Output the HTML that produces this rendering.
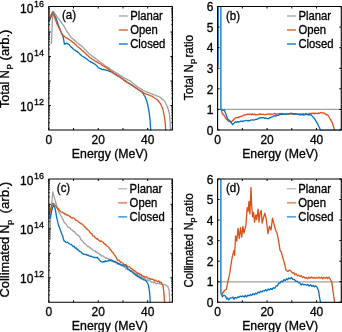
<!DOCTYPE html><html><head><meta charset="utf-8"><style>html,body{margin:0;padding:0;background:#fff;width:342px;height:332px;overflow:hidden} text{fill:#000;stroke:#000;stroke-width:0.3px}</style></head><body><svg width="342" height="332" viewBox="0 0 342 332" style="position:absolute;left:0;top:0;will-change:transform" stroke-linejoin="round" font-family='"Liberation Sans", sans-serif'>
<rect width="342" height="332" fill="#fff"/>
<defs>
<clipPath id="cla"><rect x="48.8" y="6.5" width="123.60000000000001" height="124.1"/></clipPath>
<clipPath id="clb"><rect x="217.6" y="6.5" width="123.70000000000002" height="124.1"/></clipPath>
<clipPath id="clc"><rect x="48.8" y="179" width="123.60000000000001" height="123.9"/></clipPath>
<clipPath id="cld"><rect x="217.6" y="179" width="123.70000000000002" height="123.9"/></clipPath>
</defs>
<polyline clip-path="url(#cla)" points="51.40,44.00 51.80,35.00 52.30,22.00 53.20,11.40 54.13,12.67 55.07,13.93 56.00,15.13 57.40,16.86 58.12,18.06 58.84,18.83 59.56,20.01 60.28,20.95 61.00,21.82 61.76,23.14 62.52,24.09 63.28,25.39 64.04,26.39 64.80,27.54 65.75,29.42 66.70,31.33 67.45,32.08 68.20,33.16 68.95,34.35 69.70,35.51 70.45,36.40 71.20,37.36 71.99,38.29 72.78,38.62 73.56,39.64 74.35,40.12 75.14,40.76 75.92,41.45 76.71,42.22 77.50,43.13 78.27,43.47 79.03,44.23 79.80,44.86 80.57,45.35 81.33,46.02 82.10,46.43 82.80,47.12 83.50,47.88 84.20,48.77 84.90,49.37 85.60,50.03 86.30,50.83 87.00,51.48 87.70,52.12 88.40,53.02 89.20,53.73 90.00,54.30 90.71,54.95 91.41,55.46 92.12,56.12 92.82,56.59 93.53,56.93 94.24,57.73 94.94,57.91 95.65,58.56 96.35,59.21 97.06,59.50 97.76,60.15 98.47,60.50 99.18,61.27 99.88,61.84 100.59,62.28 101.29,62.93 102.00,63.23 102.71,63.87 103.42,64.33 104.14,64.81 104.85,65.26 105.56,65.91 106.27,66.44 106.98,66.75 107.69,67.32 108.41,67.57 109.12,68.32 109.83,68.79 110.54,69.43 111.25,69.85 111.96,70.13 112.68,70.67 113.39,71.27 114.10,71.51 114.81,72.11 115.51,72.41 116.22,72.82 116.92,73.22 117.63,73.92 118.34,74.09 119.04,74.56 119.75,75.04 120.45,75.66 121.16,75.77 121.86,76.34 122.57,76.80 123.28,77.36 123.98,77.76 124.69,78.20 125.39,78.39 126.10,78.87 126.88,79.22 127.66,79.81 128.44,80.22 129.22,80.28 130.00,80.67 130.75,81.29 131.50,81.89 132.25,82.59 133.00,83.24 133.75,83.71 134.50,84.20 135.25,84.97 136.00,85.55 136.75,86.23 137.50,86.98 138.26,87.33 139.02,87.71 139.78,88.20 140.54,88.67 141.30,88.87 142.06,89.66 142.82,90.06 143.58,90.55 144.34,90.97 145.10,91.26 145.85,91.56 146.60,91.74 147.35,92.25 148.10,92.32 148.85,92.63 149.60,92.98 150.35,93.26 151.10,93.64 151.85,93.82 152.60,94.10 153.35,94.46 154.10,94.74 154.85,95.15 155.60,95.31 156.35,95.95 157.10,96.15 157.85,96.26 158.60,96.60 159.35,96.94 160.10,97.25 160.85,97.78 161.60,98.71 162.35,99.40 163.10,99.82 163.85,100.46 164.60,100.93 165.35,102.44 166.10,104.04 166.85,105.51 167.60,107.23 168.55,110.71 169.50,114.41 170.20,122.38 170.40,131.00" fill="none" stroke="#a0a0a0" stroke-width="1.3" stroke-linejoin="round"/>
<polyline clip-path="url(#cla)" points="48.80,22.30 49.53,20.53 50.27,18.77 51.00,17.00 51.90,14.65 52.80,12.30 53.57,13.65 54.35,15.00 55.12,16.35 55.90,17.70 56.73,20.35 57.57,22.79 58.40,25.62 59.12,27.06 59.84,29.01 60.56,30.94 61.28,32.58 62.00,34.20 63.20,36.98 64.40,44.23 65.20,43.73 66.00,43.64 66.80,43.12 67.63,43.84 68.47,44.21 69.30,44.76 70.10,45.86 70.90,46.74 71.70,47.48 72.50,48.25 73.30,49.06 74.10,49.82 74.82,50.04 75.54,50.67 76.26,51.07 76.98,51.38 77.70,51.86 78.42,52.61 79.14,53.22 79.86,54.06 80.58,54.81 81.30,55.17 82.02,55.94 82.75,56.48 83.47,56.98 84.20,57.20 84.92,57.64 85.65,58.16 86.38,58.67 87.10,59.19 87.83,59.91 88.55,60.57 89.28,61.05 90.00,61.39 90.80,61.89 91.60,62.38 92.40,62.44 93.20,63.15 94.00,63.69 94.80,64.04 95.52,64.75 96.24,65.33 96.96,65.90 97.68,66.92 98.40,67.42 99.12,68.01 99.84,68.46 100.56,68.53 101.28,68.89 102.00,69.52 102.76,69.56 103.53,69.44 104.29,69.56 105.05,69.73 105.81,70.25 106.57,70.35 107.34,70.17 108.10,70.66 108.82,71.10 109.54,71.30 110.26,71.51 110.98,71.96 111.70,72.12 112.50,72.46 113.30,73.34 114.10,73.57 114.81,73.97 115.51,74.63 116.22,74.84 116.92,75.52 117.63,75.96 118.34,76.11 119.04,76.59 119.75,77.07 120.45,77.50 121.16,78.13 121.86,78.43 122.57,78.97 123.28,79.28 123.98,80.13 124.69,80.31 125.39,80.82 126.10,81.34 126.88,82.04 127.66,82.34 128.44,83.13 129.22,83.46 130.00,84.02 130.75,84.51 131.50,84.76 132.25,85.47 133.00,85.84 133.75,86.25 134.50,87.15 135.25,87.34 136.00,87.99 136.75,88.61 137.50,89.03 138.25,89.41 139.00,90.01 139.75,90.53 140.50,91.14 141.25,91.30 142.00,92.03 142.78,93.02 143.55,94.19 144.32,95.59 145.10,96.60 145.83,98.63 146.57,100.73 147.30,102.81 148.05,106.32 148.80,110.16 150.00,119.20 150.80,131.00" fill="none" stroke="#0072bd" stroke-width="1.3" stroke-linejoin="round"/>
<polyline clip-path="url(#cla)" points="48.80,20.50 49.65,18.25 50.50,16.00 51.27,14.63 52.03,13.27 52.80,11.90 54.10,15.90 55.00,18.43 55.90,20.97 56.80,23.51 57.60,25.20 58.40,26.68 59.20,28.32 60.03,29.84 60.85,31.62 61.67,33.05 62.50,34.69 63.45,35.72 64.40,36.38 65.12,37.01 65.84,37.68 66.56,38.11 67.28,38.24 68.00,38.71 68.76,39.40 69.53,39.74 70.29,40.35 71.05,40.79 71.81,41.61 72.57,42.19 73.34,42.77 74.10,42.93 74.82,43.93 75.54,44.62 76.26,45.08 76.98,46.17 77.70,46.93 78.50,47.16 79.30,48.13 80.10,48.45 80.82,49.16 81.54,50.08 82.26,50.68 82.98,51.01 83.70,51.82 84.42,52.53 85.14,53.11 85.86,53.71 86.58,54.44 87.30,55.31 88.20,55.83 89.10,56.96 90.00,57.77 90.75,58.01 91.50,58.62 92.25,59.21 93.00,59.61 93.75,59.83 94.50,60.74 95.25,61.09 96.00,61.64 96.75,61.66 97.50,62.21 98.25,62.56 99.00,63.39 99.75,63.60 100.50,63.99 101.25,64.60 102.00,65.31 102.76,65.71 103.53,65.88 104.29,66.27 105.05,67.11 105.81,67.39 106.57,67.90 107.34,68.04 108.10,68.48 108.85,69.39 109.60,69.86 110.35,70.29 111.10,71.32 111.85,71.77 112.60,72.45 113.35,72.69 114.10,73.68 114.85,73.73 115.60,74.58 116.35,74.83 117.10,75.22 117.85,75.78 118.60,76.41 119.35,76.53 120.10,76.91 120.85,77.71 121.60,78.17 122.35,78.70 123.10,79.33 123.85,79.88 124.60,80.55 125.35,81.21 126.10,81.80 126.88,82.41 127.66,82.55 128.44,83.04 129.22,83.26 130.00,83.72 130.75,84.08 131.50,84.72 132.25,85.12 133.00,86.00 133.75,86.43 134.50,86.76 135.25,87.43 136.00,88.18 136.75,88.28 137.50,89.16 138.26,89.43 139.02,89.92 139.78,90.55 140.54,90.79 141.30,91.30 142.06,91.85 142.82,92.46 143.58,92.60 144.34,93.31 145.10,93.70 145.85,93.97 146.60,94.15 147.35,94.42 148.10,94.58 148.85,94.91 149.60,95.19 150.35,95.82 151.10,95.88 151.85,96.13 152.60,96.39 153.35,97.27 154.10,97.79 154.85,98.19 155.60,98.49 156.35,98.97 157.10,99.50 157.86,100.48 158.62,101.23 159.38,102.27 160.14,103.08 160.90,104.33 161.63,106.34 162.37,108.12 163.10,109.97 163.85,114.13 164.60,117.60 165.40,125.13 165.70,131.00" fill="none" stroke="#d95319" stroke-width="1.3" stroke-linejoin="round"/>
<polyline clip-path="url(#clb)" points="217.60,109.30 341.30,109.30" fill="none" stroke="#a0a0a0" stroke-width="1.3" stroke-linejoin="round"/>
<polyline clip-path="url(#clb)" points="221.20,110.00 222.10,113.10 223.05,114.25 224.00,115.40 224.90,116.95 225.80,118.50 226.70,119.40 227.60,120.30 228.50,121.20 229.40,121.50 230.30,121.80 231.20,122.10 232.00,121.34 232.80,120.58 233.60,119.82 234.40,119.06 235.20,117.80 235.96,117.97 236.72,117.85 237.49,117.67 238.25,117.15 239.01,117.24 239.78,116.53 240.54,116.58 241.30,116.19 242.08,116.17 242.85,115.49 243.62,115.15 244.40,115.10 245.18,114.71 245.95,114.74 246.72,114.35 247.50,114.25 248.21,114.21 248.92,114.32 249.62,114.53 250.33,114.09 251.04,114.08 251.75,114.78 252.46,114.00 253.17,114.62 253.88,114.59 254.58,114.04 255.29,114.89 256.00,114.99 256.75,114.65 257.50,114.68 258.25,114.69 259.00,113.94 259.75,114.25 260.50,114.15 261.25,114.41 262.00,114.30 262.79,114.41 263.57,114.26 264.36,114.65 265.14,114.53 265.93,114.62 266.71,114.24 267.50,114.13 268.24,114.13 268.98,114.26 269.71,113.90 270.45,114.54 271.19,114.16 271.92,114.13 272.66,114.03 273.40,113.98 274.13,113.79 274.87,113.30 275.60,114.10 276.33,114.05 277.07,113.80 277.80,113.84 278.53,113.96 279.27,113.37 280.00,114.04 280.73,113.57 281.47,113.40 282.20,113.61 282.93,114.08 283.67,113.57 284.40,114.12 285.13,114.37 285.87,113.90 286.60,113.80 287.33,113.91 288.07,114.13 288.80,114.23 289.53,114.09 290.27,114.13 291.00,113.58 291.71,113.66 292.41,113.78 293.12,114.28 293.83,113.86 294.53,114.13 295.24,113.59 295.95,113.65 296.65,113.88 297.36,114.29 298.07,114.33 298.77,114.32 299.48,113.95 300.19,114.19 300.89,114.15 301.60,114.17 302.30,113.77 303.00,114.50 303.70,113.76 304.40,114.49 305.10,114.40 305.80,113.44 306.50,113.83 307.20,114.15 307.90,114.25 308.60,113.68 309.30,113.46 310.00,113.35 310.70,114.04 311.40,113.26 312.10,113.58 312.80,113.10 313.50,113.44 314.20,113.83 314.90,112.97 315.60,113.62 316.30,113.27 317.00,113.61 317.70,113.38 318.40,112.87 319.10,113.50 319.80,113.05 320.50,112.54 321.20,112.48 321.90,112.93 322.60,112.85 323.36,113.00 324.11,113.14 324.87,113.64 325.63,113.92 326.39,114.74 327.14,114.70 327.90,115.00 328.60,116.23 329.30,117.47 330.00,118.70 330.70,119.93 331.40,121.17 332.10,122.40 333.15,125.55 334.20,128.70 334.60,131.00" fill="none" stroke="#d95319" stroke-width="1.3" stroke-linejoin="round"/>
<polyline clip-path="url(#clb)" points="220.90,0.00 220.90,109.50 221.90,109.95 222.90,110.40 223.65,110.20 224.40,110.00 225.10,112.00 225.80,114.00 226.70,116.50 227.60,119.00 228.50,119.73 229.40,120.47 230.30,121.20 231.03,122.30 231.77,123.40 232.50,124.50 233.40,123.73 234.30,122.97 235.20,121.80 235.96,122.29 236.72,122.25 237.49,121.56 238.25,122.09 239.01,121.81 239.78,121.85 240.54,121.24 241.30,121.20 242.03,121.15 242.75,121.57 243.48,121.17 244.20,120.92 244.93,120.91 245.65,120.72 246.38,120.47 247.10,120.45 247.82,120.97 248.55,120.46 249.28,120.92 250.00,120.30 250.72,120.16 251.45,120.21 252.18,119.80 252.90,119.80 253.62,120.11 254.35,119.91 255.08,119.70 255.80,119.40 256.54,119.41 257.27,119.20 258.01,118.66 258.75,118.58 259.49,117.81 260.23,118.14 260.96,117.69 261.70,117.70 262.43,117.77 263.15,117.63 263.88,117.59 264.60,118.44 265.32,117.95 266.05,118.38 266.77,118.42 267.50,118.54 268.24,118.60 268.98,118.51 269.71,117.65 270.45,117.67 271.19,117.10 271.92,117.02 272.66,116.60 273.40,116.13 274.12,115.93 274.85,115.77 275.57,116.12 276.30,115.60 277.02,115.18 277.75,115.53 278.47,115.40 279.20,114.76 279.93,114.44 280.65,114.40 281.38,114.25 282.10,114.37 282.82,114.10 283.55,114.14 284.27,114.08 285.00,114.26 285.75,114.42 286.50,114.22 287.25,113.87 288.00,113.78 288.75,113.78 289.50,113.58 290.25,113.46 291.00,113.15 291.71,113.41 292.41,114.05 293.12,113.46 293.83,113.85 294.53,114.04 295.24,114.31 295.95,113.88 296.65,114.01 297.36,114.08 298.07,114.29 298.77,114.41 299.48,114.90 300.19,114.91 300.89,115.01 301.60,114.42 302.36,114.39 303.13,114.89 303.89,115.01 304.65,114.63 305.42,114.69 306.18,114.18 306.95,114.46 307.71,114.85 308.47,114.73 309.24,114.72 310.00,114.78 310.84,114.96 311.68,115.61 312.52,116.40 313.36,117.46 314.20,118.20 315.00,119.50 315.80,120.80 316.60,122.10 317.40,123.40 318.23,125.17 319.07,126.93 319.90,128.70 320.50,130.50 321.22,130.50 321.93,130.50 322.65,130.50 323.37,130.50 324.09,130.50 324.80,130.50 325.52,130.50 326.24,130.50 326.96,130.50 327.67,130.50 328.39,130.50 329.11,130.50 329.82,130.50 330.54,130.50 331.26,130.50 331.98,130.50 332.69,130.50 333.41,130.50 334.13,130.50 334.84,130.50 335.56,130.50 336.28,130.50 337.00,130.50 337.71,130.50 338.43,130.50 339.15,130.50 339.87,130.50 340.58,130.50 341.30,130.50" fill="none" stroke="#0072bd" stroke-width="1.3" stroke-linejoin="round"/>
<line clip-path="url(#clb)" x1="218.5" y1="0" x2="218.5" y2="67" stroke="#0072bd" stroke-width="1.1" stroke-opacity="0.7"/>
<polyline clip-path="url(#clc)" points="50.30,240.00 50.50,219.00 51.60,205.00 52.80,192.00 53.53,194.53 54.27,197.07 55.00,199.60 55.75,202.20 56.50,205.02 57.25,207.93 58.00,210.27 58.75,211.68 59.50,213.32 60.25,214.45 61.00,216.06 61.75,216.82 62.50,219.09 63.25,219.80 64.00,222.00 64.75,222.80 65.50,223.51 66.25,224.43 67.00,225.70 67.72,226.77 68.44,227.46 69.17,227.37 69.89,227.93 70.61,229.08 71.33,229.77 72.06,230.14 72.78,230.56 73.50,231.62 74.21,231.48 74.93,232.40 75.64,233.17 76.36,234.34 77.07,234.53 77.79,235.39 78.50,235.47 79.27,236.30 80.03,237.43 80.80,239.40 81.57,240.21 82.33,240.85 83.10,241.63 83.87,242.84 84.63,243.70 85.40,244.04 86.17,244.49 86.93,245.62 87.70,246.58 88.47,246.38 89.23,246.80 90.00,247.81 90.75,248.37 91.50,249.14 92.25,249.03 93.00,250.21 93.75,250.60 94.50,250.78 95.25,250.88 96.00,252.26 96.75,252.00 97.50,253.13 98.25,252.95 99.00,253.47 99.75,254.64 100.50,254.60 101.25,255.92 102.00,255.89 102.76,255.90 103.53,256.32 104.29,256.93 105.05,257.60 105.81,258.31 106.57,257.73 107.34,258.40 108.10,258.56 108.85,259.77 109.60,259.07 110.35,259.26 111.10,259.57 111.85,260.27 112.60,261.18 113.35,261.46 114.10,261.58 114.85,262.35 115.60,262.72 116.35,262.45 117.10,262.72 117.85,264.07 118.60,264.30 119.35,263.89 120.10,265.10 120.85,265.20 121.60,265.65 122.35,266.05 123.10,266.30 123.85,266.55 124.60,267.34 125.35,267.87 126.10,269.05 126.88,268.39 127.66,269.74 128.44,269.17 129.22,269.69 130.00,270.59 130.70,271.01 131.40,270.96 132.10,270.93 132.80,271.86 133.50,272.16 134.20,273.24 134.90,272.79 135.60,273.41 136.30,274.48 137.01,273.86 137.72,274.74 138.43,275.64 139.14,276.01 139.86,275.56 140.57,275.98 141.28,276.43 141.99,277.88 142.70,277.51 143.40,278.45 144.10,278.99 144.80,278.67 145.50,278.95 146.20,280.13 146.90,280.07 147.60,280.00 148.30,280.90 149.00,280.78 149.70,280.94 150.40,280.83 151.10,281.94 151.80,282.34 152.50,282.22 153.20,282.80 153.90,281.91 154.60,282.37 155.30,282.87 156.09,283.61 156.88,283.77 157.66,283.25 158.45,283.25 159.24,283.63 160.03,283.88 160.81,284.04 161.60,284.20 162.36,284.32 163.12,284.44 163.88,284.56 164.64,284.68 165.40,284.80 166.27,285.43 167.13,286.07 168.00,286.70 169.20,291.10 169.90,304.00" fill="none" stroke="#a0a0a0" stroke-width="1.3" stroke-linejoin="round"/>
<polyline clip-path="url(#clc)" points="48.80,216.00 49.60,213.00 50.40,210.00 51.20,207.00 52.00,204.00 52.75,203.65 53.50,203.30 54.25,204.23 55.00,205.15 55.75,206.07 56.50,206.99 57.25,208.28 58.00,208.15 58.75,209.66 59.50,210.35 60.25,211.22 61.00,211.93 61.71,212.16 62.43,212.25 63.14,212.67 63.86,213.15 64.57,214.08 65.29,213.67 66.00,214.24 66.70,215.24 67.40,214.98 68.10,215.10 68.80,215.40 69.50,216.36 70.20,216.43 70.90,217.56 71.60,217.78 72.30,218.25 73.00,217.72 73.71,218.00 74.43,218.52 75.14,219.50 75.86,220.25 76.57,220.44 77.29,220.68 78.00,221.40 78.82,222.14 79.64,222.71 80.46,223.30 81.28,223.92 82.10,224.20 82.82,224.30 83.54,225.91 84.26,226.00 84.97,227.08 85.69,227.60 86.41,228.79 87.13,228.89 87.85,229.70 88.57,230.44 89.29,231.08 90.01,232.71 90.72,233.09 91.44,233.54 92.16,234.38 92.88,235.84 93.60,236.01 94.32,236.28 95.04,237.57 95.76,237.98 96.48,238.99 97.20,238.52 98.00,239.47 98.80,240.38 99.60,240.91 100.40,241.50 101.20,240.95 102.00,241.75 102.74,242.02 103.48,242.59 104.22,244.01 104.96,244.02 105.70,244.92 106.42,244.97 107.14,246.28 107.86,246.50 108.58,246.99 109.30,248.33 110.02,249.51 110.74,249.49 111.46,251.06 112.18,252.06 112.90,252.56 113.70,253.94 114.50,254.87 115.30,256.14 116.10,257.41 116.90,259.02 117.70,260.28 118.42,260.22 119.14,260.47 119.86,261.33 120.58,262.23 121.30,262.12 122.10,262.77 122.90,263.14 123.70,264.35 124.50,264.56 125.30,264.48 126.10,265.02 126.88,265.81 127.66,266.44 128.44,266.99 129.22,266.77 130.00,267.30 130.70,268.42 131.40,268.57 132.10,268.91 132.80,269.42 133.50,270.69 134.20,270.41 134.90,271.20 135.60,271.44 136.30,272.00 137.01,272.96 137.72,273.54 138.43,273.20 139.14,273.43 139.86,274.48 140.57,274.28 141.28,274.46 141.99,275.96 142.70,275.81 143.40,276.57 144.10,276.37 144.80,277.23 145.50,277.01 146.20,276.94 146.90,277.05 147.60,277.98 148.30,278.38 149.00,278.99 149.70,278.22 150.40,279.07 151.10,278.98 151.80,279.35 152.50,279.13 153.20,279.51 153.90,280.00 154.60,280.70 155.30,279.93 156.01,280.63 156.73,281.24 157.44,281.67 158.15,280.99 158.86,281.14 159.57,282.36 160.29,282.06 161.00,282.30 162.00,283.95 163.00,285.60 164.00,293.60 164.60,304.00" fill="none" stroke="#d95319" stroke-width="1.3" stroke-linejoin="round"/>
<polyline clip-path="url(#clc)" points="49.80,219.00 50.65,215.45 51.50,211.90 52.35,208.35 53.20,204.80 54.10,206.30 55.00,207.80 55.75,211.90 56.50,216.57 57.25,219.78 58.00,223.06 58.77,226.14 59.53,227.53 60.30,230.19 61.07,231.94 61.83,234.29 62.60,235.59 63.35,238.99 64.10,240.97 65.00,241.49 65.90,242.32 66.80,242.60 67.53,242.27 68.26,242.76 68.99,243.43 69.72,244.02 70.45,244.31 71.18,244.45 71.91,245.05 72.64,246.07 73.37,246.73 74.10,246.15 74.85,247.38 75.60,248.23 76.35,247.97 77.10,249.54 77.85,249.28 78.60,250.47 79.35,251.02 80.10,251.72 80.85,251.94 81.60,252.69 82.35,253.49 83.10,253.91 83.87,254.40 84.63,254.36 85.40,254.56 86.17,254.27 86.93,255.20 87.70,255.25 88.47,255.16 89.23,256.01 90.00,256.24 90.72,256.21 91.44,256.24 92.16,256.95 92.88,256.87 93.60,257.25 94.32,257.62 95.04,257.21 95.76,257.63 96.48,257.71 97.20,257.15 97.92,258.58 98.64,258.64 99.36,260.14 100.08,260.91 100.80,261.31 102.00,261.97 102.83,262.10 103.67,261.55 104.50,261.84 105.25,260.71 106.00,261.43 106.75,261.45 107.50,260.98 108.25,260.93 109.00,260.03 109.75,260.83 110.50,260.09 111.22,260.89 111.94,261.08 112.66,260.42 113.38,261.41 114.10,261.82 114.85,261.15 115.60,261.87 116.35,262.73 117.10,262.39 117.85,263.65 118.60,263.28 119.35,264.30 120.10,263.87 120.85,264.60 121.60,265.40 122.35,264.85 123.10,265.22 123.85,265.81 124.60,265.88 125.35,265.84 126.10,266.32 126.88,267.05 127.66,268.74 128.44,269.20 129.22,270.21 130.00,270.10 130.70,271.38 131.40,271.10 132.10,272.14 132.80,272.80 133.50,273.00 134.20,274.15 134.90,274.30 135.60,274.86 136.30,275.76 137.01,275.25 137.72,276.74 138.43,276.72 139.14,276.86 139.86,277.77 140.57,277.55 141.28,278.84 141.99,278.77 142.70,278.93 143.46,279.86 144.22,279.91 144.98,280.03 145.74,280.86 146.50,281.30 147.45,283.05 148.40,284.80 149.60,292.40 150.30,304.00" fill="none" stroke="#0072bd" stroke-width="1.3" stroke-linejoin="round"/>
<polyline clip-path="url(#cld)" points="217.60,281.80 341.30,281.80" fill="none" stroke="#a0a0a0" stroke-width="1.3" stroke-linejoin="round"/>
<polyline clip-path="url(#cld)" points="221.60,294.50 223.05,292.50 224.50,290.50 226.40,289.22 228.20,280.17 229.90,272.67 231.00,264.52 232.40,256.15 233.40,252.51 233.80,250.71 234.60,255.24 235.60,235.82 236.80,241.00 238.00,228.32 239.30,238.50 240.50,227.63 241.70,237.10 242.90,226.36 244.00,233.07 245.30,227.29 245.90,225.54 247.20,207.70 248.10,211.40 249.00,201.40 249.90,214.00 250.50,200.00 251.00,187.40 251.70,205.90 252.60,216.80 253.60,212.30 254.50,222.20 255.80,215.00 256.70,219.50 258.10,209.10 259.00,222.20 259.90,214.10 261.20,210.50 262.10,223.10 263.50,217.70 264.80,213.20 266.20,218.60 267.10,226.00 268.00,233.74 269.50,226.13 271.00,230.05 272.50,218.18 274.00,224.16 275.60,230.27 277.10,233.29 278.60,240.85 280.00,250.05 281.30,252.07 282.60,256.88 284.40,263.14 286.10,270.47 287.90,271.55 289.50,270.06 290.90,270.74 292.30,273.03 293.60,272.68 294.90,274.82 296.20,273.89 297.50,275.82 298.76,275.23 300.01,276.32 301.27,275.74 302.53,277.41 303.79,276.67 305.04,278.21 306.30,277.35 307.56,278.76 308.81,277.17 310.07,278.33 311.33,277.06 312.59,278.20 313.84,277.30 315.10,278.43 316.36,277.48 317.61,278.21 318.87,277.14 320.13,278.18 321.39,277.28 322.64,278.76 323.90,277.54 325.12,278.30 326.34,277.25 327.56,278.49 328.78,277.23 330.00,278.68 331.80,282.30 333.50,294.60 334.70,302.80 336.02,302.80 337.34,302.80 338.66,302.80 339.98,302.80 341.30,302.80" fill="none" stroke="#d95319" stroke-width="1.3" stroke-linejoin="round"/>
<polyline clip-path="url(#cld)" points="220.90,170.00 220.90,293.00 222.40,296.88 223.45,295.29 224.50,295.46 225.55,296.30 226.60,299.03 227.65,297.99 228.70,300.02 230.30,297.93 231.90,297.90 232.95,297.11 234.00,299.16 235.26,297.44 236.52,298.32 237.78,296.93 239.04,297.26 240.30,296.08 241.56,296.71 242.82,295.86 244.08,297.00 245.34,295.47 246.60,296.90 247.88,295.06 249.16,295.90 250.44,294.52 251.72,295.36 253.00,293.73 254.26,294.70 255.52,293.26 256.78,293.97 258.04,292.02 259.30,292.91 260.56,291.24 261.82,291.90 263.08,290.75 264.34,291.16 265.60,289.56 266.88,290.91 268.16,289.04 269.44,290.00 270.72,288.44 272.00,289.48 273.40,287.78 274.80,288.24 276.20,285.93 277.47,285.87 278.73,283.04 280.00,283.19 281.32,281.08 282.65,281.80 283.98,279.64 285.30,280.51 286.52,278.79 287.74,279.71 288.96,277.99 290.18,278.72 291.40,277.50 292.87,279.46 294.33,279.38 295.80,281.44 297.12,281.11 298.45,282.64 299.78,282.89 301.10,284.96 302.40,283.84 303.70,284.91 305.00,284.49 306.30,285.30 307.70,284.45 309.10,285.99 310.50,284.77 311.90,286.37 313.30,285.49 314.47,286.74 315.63,285.90 316.80,286.70 318.60,291.10 320.00,299.90 320.70,302.80 322.07,302.80 323.45,302.80 324.82,302.80 326.19,302.80 327.57,302.80 328.94,302.80 330.31,302.80 331.69,302.80 333.06,302.80 334.43,302.80 335.81,302.80 337.18,302.80 338.55,302.80 339.93,302.80 341.30,302.80" fill="none" stroke="#0072bd" stroke-width="1.3" stroke-linejoin="round"/>
<path d="M48.80,130.00v-2M48.80,6.50v2M73.52,130.00v-2M73.52,6.50v2M98.24,130.00v-2M98.24,6.50v2M122.96,130.00v-2M122.96,6.50v2M147.68,130.00v-2M147.68,6.50v2M172.40,130.00v-2M172.40,6.50v2M48.80,122.62h1M172.40,122.62h-1M48.80,118.31h1M172.40,118.31h-1M48.80,115.25h1M172.40,115.25h-1M48.80,112.88h1M172.40,112.88h-1M48.80,110.94h1M172.40,110.94h-1M48.80,109.30h1M172.40,109.30h-1M48.80,107.87h1M172.40,107.87h-1M48.80,106.62h1M172.40,106.62h-1M48.80,105.50h2M172.40,105.50h-2M48.80,98.12h1M172.40,98.12h-1M48.80,93.81h1M172.40,93.81h-1M48.80,90.75h1M172.40,90.75h-1M48.80,88.38h1M172.40,88.38h-1M48.80,86.44h1M172.40,86.44h-1M48.80,84.80h1M172.40,84.80h-1M48.80,83.37h1M172.40,83.37h-1M48.80,82.12h1M172.40,82.12h-1M48.80,81.00h2M172.40,81.00h-2M48.80,73.62h1M172.40,73.62h-1M48.80,69.31h1M172.40,69.31h-1M48.80,66.25h1M172.40,66.25h-1M48.80,63.88h1M172.40,63.88h-1M48.80,61.94h1M172.40,61.94h-1M48.80,60.30h1M172.40,60.30h-1M48.80,58.87h1M172.40,58.87h-1M48.80,57.62h1M172.40,57.62h-1M48.80,56.50h2M172.40,56.50h-2M48.80,49.12h1M172.40,49.12h-1M48.80,44.81h1M172.40,44.81h-1M48.80,41.75h1M172.40,41.75h-1M48.80,39.38h1M172.40,39.38h-1M48.80,37.44h1M172.40,37.44h-1M48.80,35.80h1M172.40,35.80h-1M48.80,34.37h1M172.40,34.37h-1M48.80,33.12h1M172.40,33.12h-1M48.80,32.00h2M172.40,32.00h-2M48.80,24.62h1M172.40,24.62h-1M48.80,20.31h1M172.40,20.31h-1M48.80,17.25h1M172.40,17.25h-1M48.80,14.88h1M172.40,14.88h-1M48.80,12.94h1M172.40,12.94h-1M48.80,11.30h1M172.40,11.30h-1M48.80,9.87h1M172.40,9.87h-1M48.80,8.62h1M172.40,8.62h-1" stroke="#000" stroke-width="1" fill="none"/>
<rect x="48.80" y="6.50" width="123.60" height="123.50" stroke="#000" stroke-width="1.1" fill="none"/>
<path d="M217.60,130.00v-2M217.60,6.50v2M242.34,130.00v-2M242.34,6.50v2M267.08,130.00v-2M267.08,6.50v2M291.82,130.00v-2M291.82,6.50v2M316.56,130.00v-2M316.56,6.50v2M341.30,130.00v-2M341.30,6.50v2M217.60,130.00h2M341.30,130.00h-2M217.60,109.42h2M341.30,109.42h-2M217.60,88.83h2M341.30,88.83h-2M217.60,68.25h2M341.30,68.25h-2M217.60,47.67h2M341.30,47.67h-2M217.60,27.08h2M341.30,27.08h-2M217.60,6.50h2M341.30,6.50h-2" stroke="#000" stroke-width="1" fill="none"/>
<rect x="217.60" y="6.50" width="123.70" height="123.50" stroke="#000" stroke-width="1.1" fill="none"/>
<path d="M48.80,302.30v-2M48.80,179.00v2M73.52,302.30v-2M73.52,179.00v2M98.24,302.30v-2M98.24,179.00v2M122.96,302.30v-2M122.96,179.00v2M147.68,302.30v-2M147.68,179.00v2M172.40,302.30v-2M172.40,179.00v2M48.80,294.92h1M172.40,294.92h-1M48.80,290.61h1M172.40,290.61h-1M48.80,287.55h1M172.40,287.55h-1M48.80,285.18h1M172.40,285.18h-1M48.80,283.24h1M172.40,283.24h-1M48.80,281.60h1M172.40,281.60h-1M48.80,280.17h1M172.40,280.17h-1M48.80,278.92h1M172.40,278.92h-1M48.80,277.80h2M172.40,277.80h-2M48.80,270.42h1M172.40,270.42h-1M48.80,266.11h1M172.40,266.11h-1M48.80,263.05h1M172.40,263.05h-1M48.80,260.68h1M172.40,260.68h-1M48.80,258.74h1M172.40,258.74h-1M48.80,257.10h1M172.40,257.10h-1M48.80,255.67h1M172.40,255.67h-1M48.80,254.42h1M172.40,254.42h-1M48.80,253.30h2M172.40,253.30h-2M48.80,245.92h1M172.40,245.92h-1M48.80,241.61h1M172.40,241.61h-1M48.80,238.55h1M172.40,238.55h-1M48.80,236.18h1M172.40,236.18h-1M48.80,234.24h1M172.40,234.24h-1M48.80,232.60h1M172.40,232.60h-1M48.80,231.17h1M172.40,231.17h-1M48.80,229.92h1M172.40,229.92h-1M48.80,228.80h2M172.40,228.80h-2M48.80,221.42h1M172.40,221.42h-1M48.80,217.11h1M172.40,217.11h-1M48.80,214.05h1M172.40,214.05h-1M48.80,211.68h1M172.40,211.68h-1M48.80,209.74h1M172.40,209.74h-1M48.80,208.10h1M172.40,208.10h-1M48.80,206.67h1M172.40,206.67h-1M48.80,205.42h1M172.40,205.42h-1M48.80,204.30h2M172.40,204.30h-2M48.80,196.92h1M172.40,196.92h-1M48.80,192.61h1M172.40,192.61h-1M48.80,189.55h1M172.40,189.55h-1M48.80,187.18h1M172.40,187.18h-1M48.80,185.24h1M172.40,185.24h-1M48.80,183.60h1M172.40,183.60h-1M48.80,182.17h1M172.40,182.17h-1M48.80,180.92h1M172.40,180.92h-1" stroke="#000" stroke-width="1" fill="none"/>
<rect x="48.80" y="179.00" width="123.60" height="123.30" stroke="#000" stroke-width="1.1" fill="none"/>
<path d="M217.60,302.30v-2M217.60,179.00v2M242.34,302.30v-2M242.34,179.00v2M267.08,302.30v-2M267.08,179.00v2M291.82,302.30v-2M291.82,179.00v2M316.56,302.30v-2M316.56,179.00v2M341.30,302.30v-2M341.30,179.00v2M217.60,302.30h2M341.30,302.30h-2M217.60,281.75h2M341.30,281.75h-2M217.60,261.20h2M341.30,261.20h-2M217.60,240.65h2M341.30,240.65h-2M217.60,220.10h2M341.30,220.10h-2M217.60,199.55h2M341.30,199.55h-2M217.60,179.00h2M341.30,179.00h-2" stroke="#000" stroke-width="1" fill="none"/>
<rect x="217.60" y="179.00" width="123.70" height="123.30" stroke="#000" stroke-width="1.1" fill="none"/>
<text transform="translate(48.8,144.0) scale(1,1.05)" font-size="12" text-anchor="middle" >0</text>
<text transform="translate(98.2,144.0) scale(1,1.05)" font-size="12" text-anchor="middle" >20</text>
<text transform="translate(147.7,144.0) scale(1,1.05)" font-size="12" text-anchor="middle" >40</text>
<text transform="translate(109.8,157.9) scale(1,1.05)" font-size="12.3" text-anchor="middle" >Energy (MeV)</text>
<text transform="translate(217.6,144.0) scale(1,1.05)" font-size="12" text-anchor="middle" >0</text>
<text transform="translate(267.1,144.0) scale(1,1.05)" font-size="12" text-anchor="middle" >20</text>
<text transform="translate(316.6,144.0) scale(1,1.05)" font-size="12" text-anchor="middle" >40</text>
<text transform="translate(280.1,157.9) scale(1,1.05)" font-size="12.3" text-anchor="middle" >Energy (MeV)</text>
<text transform="translate(48.8,316.3) scale(1,1.05)" font-size="12" text-anchor="middle" >0</text>
<text transform="translate(98.2,316.3) scale(1,1.05)" font-size="12" text-anchor="middle" >20</text>
<text transform="translate(147.7,316.3) scale(1,1.05)" font-size="12" text-anchor="middle" >40</text>
<text transform="translate(109.8,330.2) scale(1,1.05)" font-size="12.3" text-anchor="middle" >Energy (MeV)</text>
<text transform="translate(217.6,316.3) scale(1,1.05)" font-size="12" text-anchor="middle" >0</text>
<text transform="translate(267.1,316.3) scale(1,1.05)" font-size="12" text-anchor="middle" >20</text>
<text transform="translate(316.6,316.3) scale(1,1.05)" font-size="12" text-anchor="middle" >40</text>
<text transform="translate(280.1,330.2) scale(1,1.05)" font-size="12.3" text-anchor="middle" >Energy (MeV)</text>
<text transform="translate(20,12.7) scale(1,1.05)" font-size="12">10<tspan font-size="9" dx="0.6" dy="-5.8">16</tspan></text>
<text transform="translate(20,61.7) scale(1,1.05)" font-size="12">10<tspan font-size="9" dx="0.6" dy="-5.8">14</tspan></text>
<text transform="translate(20,110.7) scale(1,1.05)" font-size="12">10<tspan font-size="9" dx="0.6" dy="-5.8">12</tspan></text>
<text transform="translate(20,185.0) scale(1,1.05)" font-size="12">10<tspan font-size="9" dx="0.6" dy="-5.8">16</tspan></text>
<text transform="translate(20,234.0) scale(1,1.05)" font-size="12">10<tspan font-size="9" dx="0.6" dy="-5.8">14</tspan></text>
<text transform="translate(20,283.0) scale(1,1.05)" font-size="12">10<tspan font-size="9" dx="0.6" dy="-5.8">12</tspan></text>
<text transform="translate(213.5,134.7) scale(1,1.05)" font-size="12" text-anchor="end" >0</text>
<text transform="translate(213.5,114.1) scale(1,1.05)" font-size="12" text-anchor="end" >1</text>
<text transform="translate(213.5,93.5) scale(1,1.05)" font-size="12" text-anchor="end" >2</text>
<text transform="translate(213.5,73.0) scale(1,1.05)" font-size="12" text-anchor="end" >3</text>
<text transform="translate(213.5,52.4) scale(1,1.05)" font-size="12" text-anchor="end" >4</text>
<text transform="translate(213.5,31.8) scale(1,1.05)" font-size="12" text-anchor="end" >5</text>
<text transform="translate(213.5,11.2) scale(1,1.05)" font-size="12" text-anchor="end" >6</text>
<text transform="translate(213.5,307.0) scale(1,1.05)" font-size="12" text-anchor="end" >0</text>
<text transform="translate(213.5,286.4) scale(1,1.05)" font-size="12" text-anchor="end" >1</text>
<text transform="translate(213.5,265.9) scale(1,1.05)" font-size="12" text-anchor="end" >2</text>
<text transform="translate(213.5,245.3) scale(1,1.05)" font-size="12" text-anchor="end" >3</text>
<text transform="translate(213.5,224.8) scale(1,1.05)" font-size="12" text-anchor="end" >4</text>
<text transform="translate(213.5,204.2) scale(1,1.05)" font-size="12" text-anchor="end" >5</text>
<text transform="translate(213.5,183.7) scale(1,1.05)" font-size="12" text-anchor="end" >6</text>
<text transform="translate(62,18.7) scale(1,1.05)" font-size="11.5" text-anchor="start" >(a)</text>
<text transform="translate(226,19.5) scale(1,1.05)" font-size="11.5" text-anchor="start" >(b)</text>
<text transform="translate(56.8,192.0) scale(1,1.05)" font-size="11.5" text-anchor="start" >(c)</text>
<text transform="translate(226,192.0) scale(1,1.05)" font-size="11.5" text-anchor="start" >(d)</text>
<line x1="118.8" y1="16.0" x2="127.8" y2="16.0" stroke="#a0a0a0" stroke-width="1.3"/>
<text transform="translate(130.2,19.8) scale(1,1.05)" font-size="11.3" text-anchor="start" >Planar</text>
<line x1="118.8" y1="30.0" x2="127.8" y2="30.0" stroke="#d95319" stroke-width="1.3"/>
<text transform="translate(130.2,33.8) scale(1,1.05)" font-size="11.3" text-anchor="start" >Open</text>
<line x1="118.8" y1="44.0" x2="127.8" y2="44.0" stroke="#0072bd" stroke-width="1.3"/>
<text transform="translate(130.2,47.8) scale(1,1.05)" font-size="11.3" text-anchor="start" >Closed</text>
<line x1="287.0" y1="16.0" x2="296.0" y2="16.0" stroke="#a0a0a0" stroke-width="1.3"/>
<text transform="translate(298.4,19.8) scale(1,1.05)" font-size="11.3" text-anchor="start" >Planar</text>
<line x1="287.0" y1="30.0" x2="296.0" y2="30.0" stroke="#d95319" stroke-width="1.3"/>
<text transform="translate(298.4,33.8) scale(1,1.05)" font-size="11.3" text-anchor="start" >Open</text>
<line x1="287.0" y1="44.0" x2="296.0" y2="44.0" stroke="#0072bd" stroke-width="1.3"/>
<text transform="translate(298.4,47.8) scale(1,1.05)" font-size="11.3" text-anchor="start" >Closed</text>
<line x1="118.2" y1="188.8" x2="127.2" y2="188.8" stroke="#a0a0a0" stroke-width="1.0" stroke-opacity="1"/>
<text transform="translate(129.6,192.6) scale(1,1.05)" font-size="11.3" text-anchor="start" >Planar</text>
<line x1="118.2" y1="202.8" x2="127.2" y2="202.8" stroke="#d95319" stroke-width="1.7" stroke-opacity="0.65"/>
<text transform="translate(129.6,206.6) scale(1,1.05)" font-size="11.3" text-anchor="start" >Open</text>
<line x1="118.2" y1="216.8" x2="127.2" y2="216.8" stroke="#0072bd" stroke-width="1.7" stroke-opacity="0.65"/>
<text transform="translate(129.6,220.6) scale(1,1.05)" font-size="11.3" text-anchor="start" >Closed</text>
<line x1="286.9" y1="188.8" x2="295.9" y2="188.8" stroke="#a0a0a0" stroke-width="1.0" stroke-opacity="1"/>
<text transform="translate(298.3,192.6) scale(1,1.05)" font-size="11.3" text-anchor="start" >Planar</text>
<line x1="286.9" y1="202.8" x2="295.9" y2="202.8" stroke="#d95319" stroke-width="1.7" stroke-opacity="0.65"/>
<text transform="translate(298.3,206.6) scale(1,1.05)" font-size="11.3" text-anchor="start" >Open</text>
<line x1="286.9" y1="216.8" x2="295.9" y2="216.8" stroke="#0072bd" stroke-width="1.7" stroke-opacity="0.65"/>
<text transform="translate(298.3,220.6) scale(1,1.05)" font-size="11.3" text-anchor="start" >Closed</text>
<text transform="translate(8.9,108.00) rotate(-90)" font-size="12" textLength="26.40" lengthAdjust="spacingAndGlyphs">Total</text>
<text transform="translate(8.9,78.40) rotate(-90)" font-size="12" textLength="8.30" lengthAdjust="spacingAndGlyphs">N</text>
<text transform="translate(11.2,69.50) rotate(-90)" font-size="7.5" textLength="5.30" lengthAdjust="spacingAndGlyphs">p</text>
<text transform="translate(8.9,60.40) rotate(-90)" font-size="12" textLength="30.80" lengthAdjust="spacingAndGlyphs">(arb.)</text>
<text transform="translate(192.8,100.20) rotate(-90)" font-size="12" textLength="24.80" lengthAdjust="spacingAndGlyphs">Total</text>
<text transform="translate(192.8,72.40) rotate(-90)" font-size="12" textLength="8.30" lengthAdjust="spacingAndGlyphs">N</text>
<text transform="translate(195.10000000000002,64.10) rotate(-90)" font-size="7.5" textLength="5.10" lengthAdjust="spacingAndGlyphs">p</text>
<text transform="translate(192.8,57.60) rotate(-90)" font-size="12" textLength="22.70" lengthAdjust="spacingAndGlyphs">ratio</text>
<text transform="translate(9.3,297.50) rotate(-90)" font-size="12" textLength="60.70" lengthAdjust="spacingAndGlyphs">Collimated</text>
<text transform="translate(9.3,233.50) rotate(-90)" font-size="12" textLength="8.70" lengthAdjust="spacingAndGlyphs">N</text>
<text transform="translate(11.600000000000001,224.90) rotate(-90)" font-size="7.5" textLength="5.20" lengthAdjust="spacingAndGlyphs">p</text>
<text transform="translate(9.3,213.40) rotate(-90)" font-size="12" textLength="31.50" lengthAdjust="spacingAndGlyphs">(arb.)</text>
<text transform="translate(193.0,287.50) rotate(-90)" font-size="12" textLength="53.70" lengthAdjust="spacingAndGlyphs">Collimated</text>
<text transform="translate(193.0,230.30) rotate(-90)" font-size="12" textLength="7.80" lengthAdjust="spacingAndGlyphs">N</text>
<text transform="translate(195.3,222.80) rotate(-90)" font-size="7.5" textLength="5.30" lengthAdjust="spacingAndGlyphs">p</text>
<text transform="translate(193.0,216.10) rotate(-90)" font-size="12" textLength="22.80" lengthAdjust="spacingAndGlyphs">ratio</text>
</svg></body></html>
